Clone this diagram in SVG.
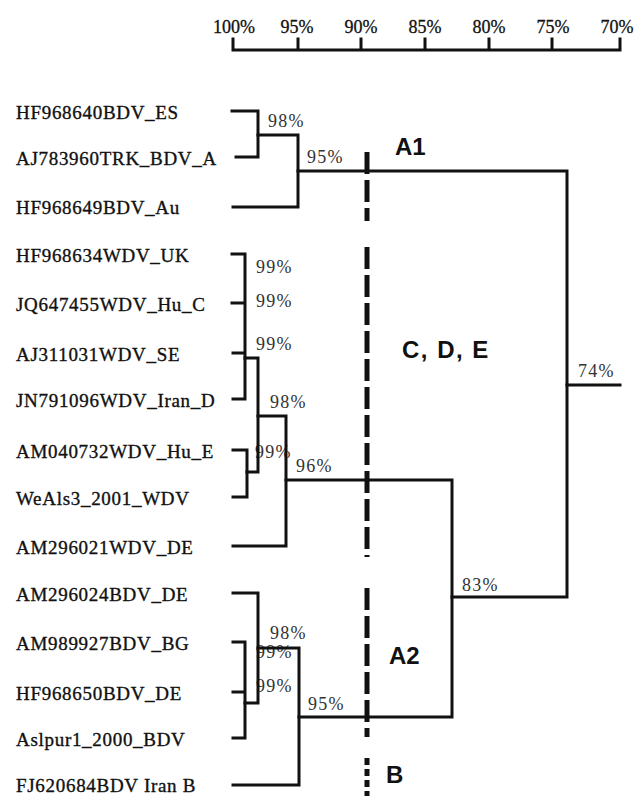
<svg xmlns="http://www.w3.org/2000/svg" width="638" height="796" viewBox="0 0 638 796">
<style>
.leaf{font-family:"Liberation Serif","Times New Roman",serif;font-size:19px;letter-spacing:0.7px;fill:#111;stroke:#111;stroke-width:0.35px}
.pct{font-family:"Liberation Serif","Times New Roman",serif;font-size:18px;letter-spacing:1.2px;fill:#333}
.scale{font-family:"Liberation Serif","Times New Roman",serif;font-size:18px;fill:#111;stroke:#111;stroke-width:0.3px;text-anchor:middle}
.clade{font-family:"Liberation Sans",Arial,sans-serif;font-size:24px;font-weight:bold;fill:#111}
.ln{fill:none;stroke:#111;stroke-width:3;stroke-linecap:square;stroke-linejoin:miter}
.dash{fill:none;stroke:#111;stroke-width:5;stroke-dasharray:22 6}
</style>
<rect width="638" height="796" fill="#fff"/>
<g id="scale">
<path class="ln" d="M233 50 H620 M233 39 V50 M298 39 V50 M361 39 V50 M425 39 V50 M489 39 V50 M552 39 V50 M620 39 V50"/>
<text class="scale" x="234" y="33">100%</text>
<text class="scale" x="297" y="33">95%</text>
<text class="scale" x="361" y="33">90%</text>
<text class="scale" x="425" y="33">85%</text>
<text class="scale" x="489" y="33">80%</text>
<text class="scale" x="553" y="33">75%</text>
<text class="scale" x="617" y="33">70%</text>
</g>
<g id="leaves">
<g id="n1"><text class="leaf" x="16" y="119">HF968640BDV_ES</text></g>
<g id="n2"><text class="leaf" x="16" y="165">AJ783960TRK_BDV_A</text></g>
<g id="n3"><text class="leaf" x="16" y="214">HF968649BDV_Au</text></g>
<g id="n4"><text class="leaf" x="16" y="262">HF968634WDV_UK</text></g>
<g id="n5"><text class="leaf" x="16" y="311">JQ647455WDV_Hu_C</text></g>
<g id="n6"><text class="leaf" x="16" y="361">AJ311031WDV_SE</text></g>
<g id="n7"><text class="leaf" x="16" y="407">JN791096WDV_Iran_D</text></g>
<g id="n8"><text class="leaf" x="16" y="458">AM040732WDV_Hu_E</text></g>
<g id="n9"><text class="leaf" x="16" y="505">WeAls3_2001_WDV</text></g>
<g id="n10"><text class="leaf" x="16" y="554">AM296021WDV_DE</text></g>
<g id="n11"><text class="leaf" x="16" y="601">AM296024BDV_DE</text></g>
<g id="n12"><text class="leaf" x="16" y="650">AM989927BDV_BG</text></g>
<g id="n13"><text class="leaf" x="16" y="700">HF968650BDV_DE</text></g>
<g id="n14"><text class="leaf" x="16" y="746">Aslpur1_2000_BDV</text></g>
<g id="n15"><text class="leaf" x="16" y="792">FJ620684BDV Iran B</text></g>
</g>
<g id="labels">
<text class="pct" x="268" y="127">98%</text>
<text class="pct" x="307" y="163">95%</text>
<text class="pct" x="256" y="273">99%</text>
<text class="pct" x="256" y="307">99%</text>
<text class="pct" x="256" y="350">99%</text>
<text class="pct" x="270" y="408">98%</text>
<text class="pct" x="255" y="458">99%</text>
<text class="pct" x="296" y="472">96%</text>
<text class="pct" x="578" y="377">74%</text>
<text class="pct" x="462" y="591">83%</text>
<text class="pct" x="270" y="639">98%</text>
<text class="pct" x="256" y="658">99%</text>
<text class="pct" x="256" y="692">99%</text>
<text class="pct" x="308" y="710">95%</text>
</g>
<g id="clades">
<text class="clade" x="395" y="155">A1</text>
<text class="clade" x="402" y="358" letter-spacing="1.5">C, D, E</text>
<text class="clade" x="389" y="664">A2</text>
<text class="clade" x="386" y="783">B</text>
</g>
<g id="cutoff">
<path class="dash" d="M367 152 V221 M367 247 V557 M367 588 V737"/>
<path fill="none" stroke="#111" stroke-width="5" stroke-dasharray="7 4" d="M367 758 V796"/>
</g>
<g id="connectors">
<path class="ln" d="M232 111 H258 V157 H236"/>
<path class="ln" d="M258 135 H298 V207 H233"/>
<path class="ln" d="M298 171 H567 V597 H452"/>
<path class="ln" d="M567 385 H620"/>
<path class="ln" d="M232 254 H245 V399 H233 M232 303 H245 M233 353 H245"/>
<path class="ln" d="M245 358 H258 V472 H247"/>
<path class="ln" d="M233 450 H247 V497 H233"/>
<path class="ln" d="M258 416 H286 V546 H233"/>
<path class="ln" d="M286 480 H452 V717 H299"/>
<path class="ln" d="M233 593 H258 V703 H245"/>
<path class="ln" d="M233 642 H245 V738 H233 M233 692 H245"/>
<path class="ln" d="M258 648 H299 V785 H233"/>
</g>
</svg>
